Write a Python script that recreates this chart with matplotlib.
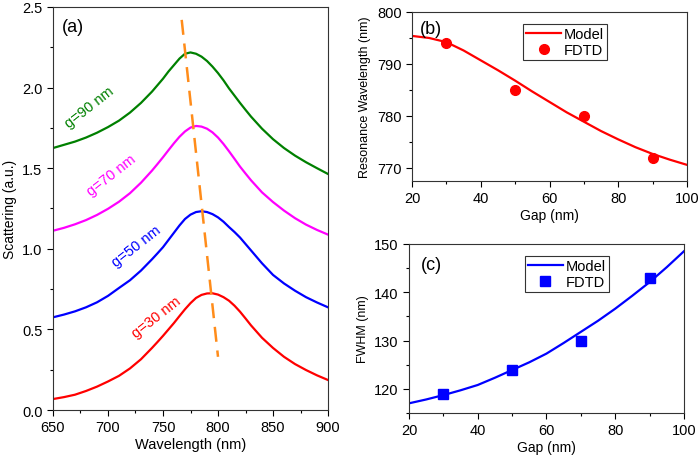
import numpy as np
import matplotlib
matplotlib.use('Agg')
import matplotlib.pyplot as plt
from matplotlib.ticker import MultipleLocator

plt.rcParams['font.family'] = ['Liberation Sans', 'DejaVu Sans']
plt.rcParams['font.size'] = 10

### Spectra, offset curves as drawn (finer steps near the peaks).
wavelength = [650, 660, 670, 680, 690, 700, 710, 720, 730,
              740, 745, 750, 755, 760, 765, 770, 775, 780, 785, 790, 795, 800, 805, 810, 815, 820, 825, 830,
              840, 850, 860, 870, 880, 890, 900]
scat_g30 = [0.068, 0.080, 0.095, 0.118, 0.145, 0.177, 0.212, 0.258, 0.315,
            0.385, 0.422, 0.460, 0.500, 0.540, 0.583, 0.625, 0.663, 0.695, 0.714, 0.723, 0.724, 0.716, 0.700,
            0.678, 0.647, 0.610, 0.568, 0.525,
            0.448, 0.385, 0.330, 0.285, 0.248, 0.215, 0.186]
scat_g50 = [0.575, 0.592, 0.612, 0.637, 0.668, 0.708, 0.757, 0.805, 0.865,
            0.935, 0.972, 1.010, 1.055, 1.100, 1.145, 1.185, 1.212, 1.228, 1.233, 1.228, 1.215, 1.195, 1.168,
            1.135, 1.104, 1.070, 1.030, 0.990,
            0.910, 0.838, 0.785, 0.740, 0.700, 0.667, 0.637]
scat_g70 = [1.112, 1.130, 1.152, 1.178, 1.210, 1.248, 1.292, 1.345, 1.410,
            1.485, 1.526, 1.568, 1.612, 1.655, 1.695, 1.728, 1.752, 1.762, 1.758, 1.745, 1.722, 1.690, 1.650,
            1.605, 1.558, 1.510, 1.467, 1.425,
            1.350, 1.290, 1.237, 1.190, 1.150, 1.117, 1.088]
scat_g90 = [1.625, 1.645, 1.665, 1.690, 1.720, 1.755, 1.795, 1.845, 1.905,
            1.975, 2.015, 2.055, 2.100, 2.140, 2.180, 2.210, 2.218, 2.210, 2.192, 2.165, 2.130, 2.090, 2.045,
            1.995, 1.950, 1.905, 1.862, 1.820,
            1.745, 1.680, 1.625, 1.578, 1.537, 1.500, 1.464]
curve_labels = ['g=30 nm', 'g=50 nm', 'g=70 nm', 'g=90 nm']
curve_colors = ['#FF0000', '#0000FF', '#FF00FF', '#008000']
label_pos = [(744, 0.58), (726, 1.02), (703, 1.46), (683, 1.88)]
trend_wl = [767, 800]
trend_val = [2.42, 0.33]

### Panel (b) and (c) data.
gap_model = [20, 25, 30, 35, 40, 45, 50, 55, 60, 65, 70, 75, 80, 85, 90, 95, 100]
res_model = [795.4, 795.0, 794.2, 792.6, 790.7, 788.8, 786.8, 784.7, 782.7,
             780.7, 778.9, 777.1, 775.5, 774.0, 772.7, 771.6, 770.6]
fwhm_model = [117.0, 117.8, 118.7, 119.7, 120.8, 122.3, 123.9, 125.5, 127.3,
              129.5, 131.8, 134.1, 136.6, 139.3, 142.1, 145.2, 148.5]
gap_fdtd = [30, 50, 70, 90]
res_fdtd = [794, 785, 780, 772]
fwhm_fdtd = [119, 124, 130, 143]

fig = plt.figure(figsize=(7, 4.64), dpi=100)
ax_a = fig.add_axes([0.0757, 0.1142, 0.3929, 0.8686])
ax_b = fig.add_axes([0.5886, 0.6078, 0.3928, 0.3642])
ax_c = fig.add_axes([0.5843, 0.1078, 0.3928, 0.3642])

def style_axes(ax):
    ax.tick_params(which='both', direction='out', top=False, right=False, labelsize=10.5)
    ax.tick_params(which='major', length=4, width=0.8)
    ax.tick_params(which='minor', length=2.5, width=0.8)
    for sp in ax.spines.values():
        sp.set_linewidth(0.8)
        sp.set_color('#333333')

### (a) scattering spectra
for vals, lab, col, pos in zip([scat_g30, scat_g50, scat_g70, scat_g90], curve_labels, curve_colors, label_pos):
    ax_a.plot(wavelength, vals, color=col, linewidth=1.6)
    ax_a.text(pos[0], pos[1], lab, color=col, fontsize=10.5, rotation=38, ha='center', va='center')
ax_a.plot(trend_wl, trend_val, color='#FF8C1A', linewidth=1.8, linestyle=(0, (6, 3.5)))
ax_a.set_xlim(650, 900)
ax_a.set_ylim(0, 2.5)
ax_a.xaxis.set_major_locator(MultipleLocator(50))
ax_a.xaxis.set_minor_locator(MultipleLocator(25))
ax_a.yaxis.set_major_locator(MultipleLocator(0.5))
ax_a.yaxis.set_minor_locator(MultipleLocator(0.25))
ax_a.set_xlabel('Wavelength (nm)', fontsize=10.5, labelpad=2)
ax_a.set_ylabel('Scattering (a.u.)', fontsize=10, labelpad=4)
ax_a.text(0.033, 0.972, '(a)', transform=ax_a.transAxes, fontsize=13, ha='left', va='top')
style_axes(ax_a)

### (b) resonance wavelength
ax_b.plot(gap_model, res_model, color='#FF0000', linewidth=1.6, label='Model')
ax_b.plot(gap_fdtd, res_fdtd, 'o', color='#FF0000', markersize=7, label='FDTD')
ax_b.set_xlim(20, 100)
ax_b.set_ylim(767.5, 800)
ax_b.xaxis.set_major_locator(MultipleLocator(20))
ax_b.xaxis.set_minor_locator(MultipleLocator(10))
ax_b.yaxis.set_major_locator(MultipleLocator(10))
ax_b.yaxis.set_minor_locator(MultipleLocator(5))
ax_b.set_xlabel('Gap (nm)', fontsize=10, labelpad=2)
ax_b.set_ylabel('Resonance Wavelength (nm)', fontsize=9)
ax_b.text(0.029, 0.95, '(b)', transform=ax_b.transAxes, fontsize=13, ha='left', va='top')
leg = ax_b.legend(loc='upper right', bbox_to_anchor=(0.71, 0.93), numpoints=1, fontsize=10.5,
                  fancybox=False, framealpha=1, edgecolor='#333333', borderpad=0.2,
                  labelspacing=0.15, handlelength=2.4, handletextpad=0.2, borderaxespad=0)
leg.get_frame().set_linewidth(0.8)
style_axes(ax_b)

### (c) FWHM
ax_c.plot(gap_model, fwhm_model, color='#0000FF', linewidth=1.6, label='Model')
ax_c.plot(gap_fdtd, fwhm_fdtd, 's', color='#0000FF', markersize=6.5, label='FDTD')
ax_c.set_xlim(20, 100)
ax_c.set_ylim(115, 150)
ax_c.xaxis.set_major_locator(MultipleLocator(20))
ax_c.xaxis.set_minor_locator(MultipleLocator(10))
ax_c.yaxis.set_major_locator(MultipleLocator(10))
ax_c.yaxis.set_minor_locator(MultipleLocator(5))
ax_c.set_xlabel('Gap (nm)', fontsize=10, labelpad=2)
ax_c.set_ylabel('FWHM (nm)', fontsize=9)
ax_c.text(0.044, 0.93, '(c)', transform=ax_c.transAxes, fontsize=13, ha='left', va='top')
leg = ax_c.legend(loc='upper right', bbox_to_anchor=(0.727, 0.93), numpoints=1, fontsize=10.5,
                  fancybox=False, framealpha=1, edgecolor='#333333', borderpad=0.2,
                  labelspacing=0.15, handlelength=2.4, handletextpad=0.2, borderaxespad=0)
leg.get_frame().set_linewidth(0.8)
style_axes(ax_c)

plt.savefig('out.png', dpi=100)
